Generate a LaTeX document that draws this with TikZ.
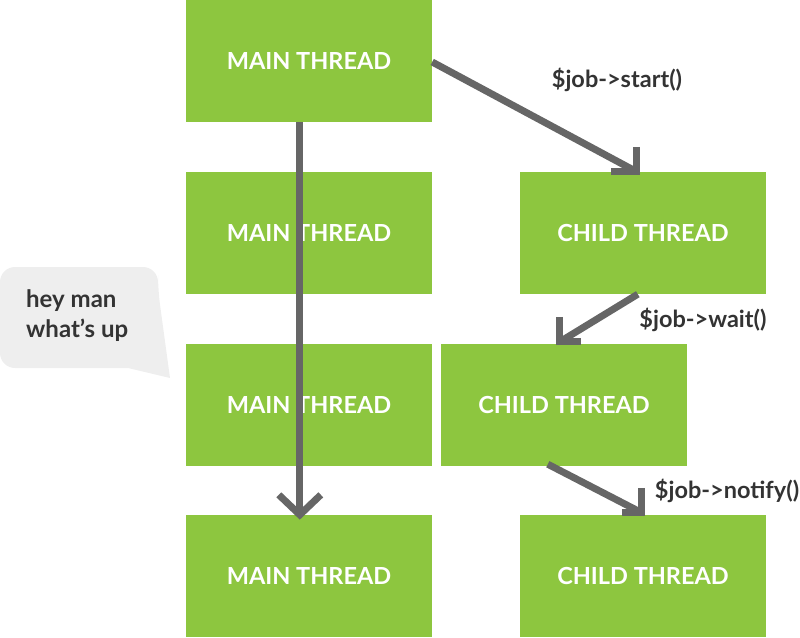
\documentclass[tikz,border=0pt]{standalone}
\usepackage{fontspec}
\setmainfont{Lato}
\usetikzlibrary{calc}
\definecolor{boxgreen}{HTML}{8DC63F}
\definecolor{arrowgray}{HTML}{666666}
\definecolor{txtgray}{HTML}{333333}
\definecolor{bubblegray}{HTML}{EEEEEE}
\tikzset{
  thread/.style={fill=boxgreen, draw=none, minimum width=246pt, minimum height=122pt,
    inner sep=0pt, text=white, font=\fontsize{23.5pt}{26pt}\selectfont\bfseries},
  conn/.style={draw=arrowgray, line width=7pt, line cap=butt, line join=miter},
  lbl/.style={text=txtgray, font=\fontsize{23.5pt}{26pt}\selectfont\bfseries, inner sep=0pt},
}
\begin{document}
\begin{tikzpicture}[x=1pt,y=-1pt]
\useasboundingbox (0,0) rectangle (800,637);
% boxes
\node[thread] (m1) at (309,61) {MAIN THREAD};
\node[thread] (m2) at (309,233) {MAIN THREAD};
\node[thread] (m3) at (309,405) {MAIN THREAD};
\node[thread] (m4) at (309,576) {MAIN THREAD};
\node[thread] (c1) at (643,233) {CHILD THREAD};
\node[thread] (c2) at (564,405) {CHILD THREAD};
\node[thread] (c3) at (643,576) {CHILD THREAD};
% speech bubble
\fill[bubblegray, rounded corners=15pt] (0,300) -- (0,267) -- (158,267) -- (158,290)
  [sharp corners] -- (170,378) -- (128,368) [rounded corners=15pt] -- (0,368) -- (0,300);
\node[lbl, anchor=west, align=left, font=\fontsize{24pt}{30pt}\selectfont\bfseries] (bubble) at (26,316) {hey man\\what’s up};
% labels
\node[lbl] (l1) at (617,80) {\$job->start()};
\node[lbl] (l2) at (703,320) {\$job->wait()};
\node[lbl] (l3) at (727,491) {\$job->notify()};
% connector coordinates
\coordinate (a0s) at ($(m1.south west)+(114,0)$);
\coordinate (a0e) at ($(m4.north west)+(114,0)$);
\coordinate (a1s) at ($(m1.east)+(0,1)$);
\coordinate (a1e) at ($(c1.north west)+(117,0)$);
\coordinate (a2s) at ($(c1.south west)+(118,0)$);
\coordinate (a2e) at ($(c2.north west)+(119,-2)$);
\coordinate (a3s) at ($(c2.south west)+(107,-2)$);
\coordinate (a3e) at ($(c3.north west)+(122,-2)$);
% main vertical arrow
\draw[conn] (a0s) -- (a0e);
\draw[conn] ($(a0e)+(-21,-20)$) -- (a0e) -- ($(a0e)+(21,-20)$);
% start arrow
\draw[conn] (a1s) -- (a1e);
\draw[conn] ($(a1e)+(0,-25)$) -- (a1e) -- ($(a1e)+(-26,0)$);
% wait arrow
\draw[conn] (a2s) -- (a2e);
\draw[conn] ($(a2e)+(0,-25)$) -- (a2e) -- ($(a2e)+(21,0)$);
% notify arrow
\draw[conn] (a3s) -- (a3e);
\draw[conn] ($(a3e)+(0,-25)$) -- (a3e) -- ($(a3e)+(-20,0)$);
\end{tikzpicture}
\end{document}
